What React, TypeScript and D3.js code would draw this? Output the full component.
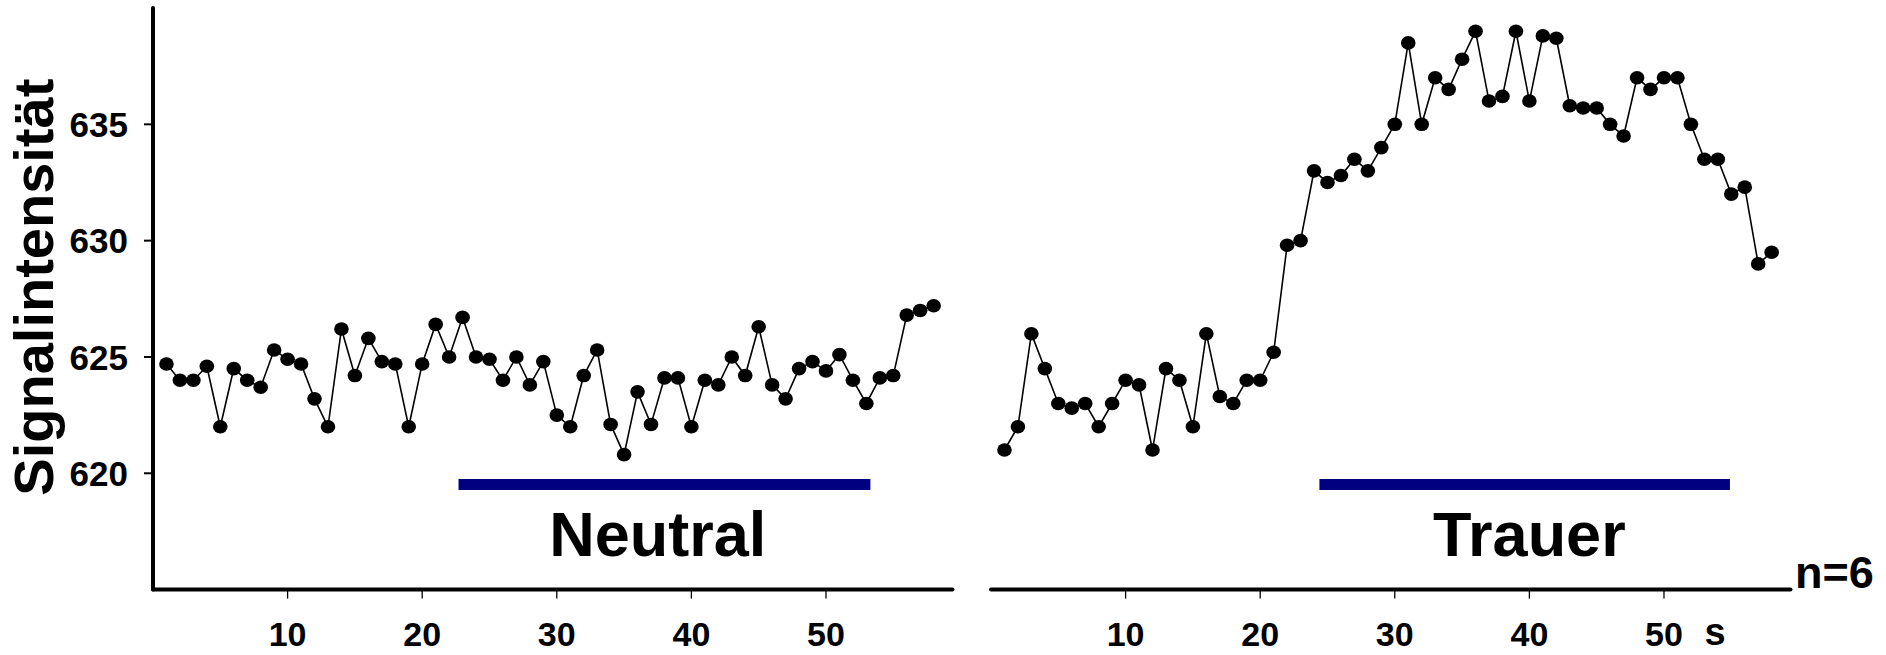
import React from 'react';
import * as d3 from 'd3';

// seconds 1..58, one value per second
const neutral = [
  624.7, 624.0, 624.0, 624.6, 622.0, 624.5, 624.0, 623.7, 625.3, 624.9,
  624.7, 623.2, 622.0, 626.2, 624.2, 625.8, 624.8, 624.7, 622.0, 624.7,
  626.4, 625.0, 626.7, 625.0, 624.9, 624.0, 625.0, 623.8, 624.8, 622.5,
  622.0, 624.2, 625.3, 622.1, 620.8, 623.5, 622.1, 624.1, 624.1, 622.0,
  624.0, 623.8, 625.0, 624.2, 626.3, 623.8, 623.2, 624.5, 624.8, 624.4,
  625.1, 624.0, 623.0, 624.1, 624.2, 626.8, 627.0, 627.2,
];
const trauer = [
  621.0, 622.0, 626.0, 624.5, 623.0, 622.8, 623.0, 622.0, 623.0, 624.0,
  623.8, 621.0, 624.5, 624.0, 622.0, 626.0, 623.3, 623.0, 624.0, 624.0,
  625.2, 629.8, 630.0, 633.0, 632.5, 632.8, 633.5, 633.0, 634.0, 635.0,
  638.5, 635.0, 637.0, 636.5, 637.8, 639.0, 636.0, 636.2, 639.0, 636.0,
  638.8, 638.7, 635.8, 635.7, 635.7, 635.0, 634.5, 637.0, 636.5, 637.0,
  637.0, 635.0, 633.5, 633.5, 632.0, 632.3, 629.0, 629.5,
];
const xTicks = [10, 20, 30, 40, 50];
const yTicks = [620, 625, 630, 635];

// stimulus periods (s) and their labels
const periods = [
  { label: 'Neutral', from: 22.7, to: 53.3, labelX: 37.5 },
  { label: 'Trauer', from: 24.4, to: 54.9, labelX: 40.0 },
];

const font = "'Liberation Sans', Arial, Helvetica, sans-serif";

const App = () => {
  const width = 1886;
  const height = 655;

  const y = d3.scaleLinear().domain([615, 640]).range([589.6, 8]);
  const xLeft = d3.scaleLinear().domain([0, 59.4]).range([153, 952.5]);
  const xRight = d3.scaleLinear().domain([0, 59.4]).range([991, 1790.5]);

  const panels = [
    { data: neutral, x: xLeft, period: periods[0] },
    { data: trauer, x: xRight, period: periods[1] },
  ];

  return (
    <svg
      width={width}
      height={height}
      style={{ position: 'absolute', left: 0, top: 0, background: '#fff' }}
      fontFamily={font}
      fontWeight="bold"
    >
      {/* y axis (left panel only) */}
      <line x1={xLeft(0)} x2={xLeft(0)} y1={y(615)} y2={y(640)}
        stroke="#000" strokeWidth={4} strokeLinecap="round" />
      {yTicks.map(t => (
        <g key={t}>
          <line x1={xLeft(0) - 9} x2={xLeft(0)} y1={y(t)} y2={y(t)} stroke="#000" strokeWidth={2} />
          <text x={xLeft(0) - 25} y={y(t)} dy="0.36em" textAnchor="end" fontSize={35}>{t}</text>
        </g>
      ))}
      <text
        transform={`translate(53,${y(628)}) rotate(-90)`}
        textAnchor="middle"
        fontSize={56}
      >
        Signalintensität
      </text>

      {panels.map(({ data, x, period }, i) => {
        const line = d3.line<number>()
          .x((_, j) => x(j + 1))
          .y(d => y(d));
        return (
          <g key={i}>
            <line x1={x(0)} x2={x(59.4)} y1={y(615)} y2={y(615)}
              stroke="#000" strokeWidth={4} strokeLinecap="round" />
            {xTicks.map(t => (
              <g key={t}>
                <line x1={x(t)} x2={x(t)} y1={y(615)} y2={y(615) + 9} stroke="#000" strokeWidth={1.3} />
                <text x={x(t)} y={646} textAnchor="middle" fontSize={34}>{t}</text>
              </g>
            ))}
            <line x1={x(period.from)} x2={x(period.to)} y1={y(619.52)} y2={y(619.52)}
              stroke="#000080" strokeWidth={11} />
            <text x={x(period.labelX)} y={556} textAnchor="middle" fontSize={63}>{period.label}</text>
            <path d={line(data) ?? ''} fill="none" stroke="#000" strokeWidth={1.6} />
            {data.map((d, j) => (
              <ellipse key={j} cx={x(j + 1)} cy={y(d)} rx={7.3} ry={6.8} fill="#000" />
            ))}
          </g>
        );
      })}

      <text x={xRight(53.8)} y={645} textAnchor="middle" fontSize={38}>s</text>
      <text x={1795} y={588} fontSize={45}>n=6</text>
    </svg>
  );
};

export default App;
